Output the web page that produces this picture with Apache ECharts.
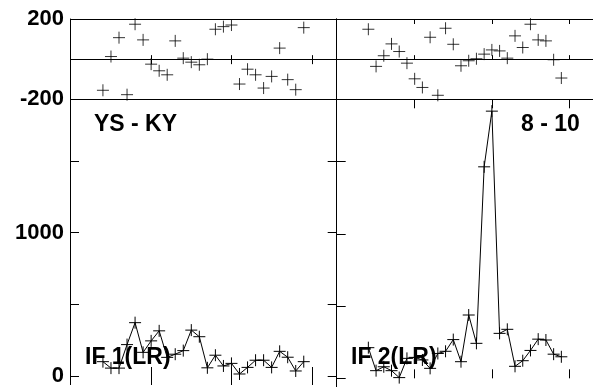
<!DOCTYPE html>
<html>
<head>
<meta charset="utf-8">
<script src="https://cdn.jsdelivr.net/npm/echarts@6/dist/echarts.min.js"></script>
<style>html,body{margin:0;padding:0;background:#fff}#c{width:593px;height:387px}</style>
</head>
<body>
<div id="c"></div>
<script>
// x positions (shared by all panels)
const xs = [4,5,6,7,8,9,10,11,12,13,14,15,16,17,18,19,20,21,22,23,24,25,26,27,28,29];
// top-left panel (YS - KY)
const topLeft = [-155,13,107,-177,174,96,-25,-58,-78,91,5,-15,-28,0,149,162,170,-124,-50,-78,-144,-86,55,-102,-152,157];
// top-right panel (8 - 10)
const topRight = [149,-36,17,76,38,-20,-98,-141,109,-180,154,74,-33,-8,2,25,46,41,5,116,58,174,96,91,-3,-94];
// bottom-left panel IF 1(LR)
const bottomLeft = [100,55,55,219,372,165,245,315,130,152,177,320,274,57,145,70,88,14,60,110,110,60,172,131,35,100];
// bottom-right panel IF 2(LR)
const bottomRight = [212,53,80,53,5,138,145,127,69,172,187,268,115,438,242,1463,1848,311,339,83,122,193,271,265,167,149];
// tick values / labels
const xTicks = [10,20,30];
const topTicks = [-200,0,200];
const topLabels = [200,-200];
const botTicks = [0,500,1000,1500];
const botLabels = [0,1000];
const panelLabels = ['YS - KY','8 - 10','IF 1(LR)','IF 2(LR)'];

const FONT = '"Liberation Sans", Arial, sans-serif';
const chart = echarts.init(document.getElementById('c'), null, {renderer:'canvas'});
const PW = 266.7;
const grids = [
  {left:70, top:19, width:PW, height:80.3},
  {left:336.7, top:19, width:PW, height:80.3},
  {left:70, top:99.3, width:PW, height:287.7},
  {left:336.7, top:99.3, width:PW, height:287.7}
];
function xAx(g, pos, len){
  return {type:'value', gridIndex:g, position:pos, min:-0.1, max:33.1,
    axisLine:{show:false}, splitLine:{show:false},
    axisTick:{show:true, inside:true, length:len, customValues:xTicks, lineStyle:{color:'#000',width:1}},
    axisLabel:{show:false}};
}
const xAxis = [
  xAx(0,'bottom',4), xAx(0,'top',5),
  xAx(1,'bottom',4), xAx(1,'top',5),
  xAx(2,'bottom',9), xAx(2,'top',9),
  xAx(3,'bottom',9), xAx(3,'top',9)
];
function topY(g,pos,labels,split){
  return {type:'value', gridIndex:g, position:pos, min:-200, max:200, interval:200,
    axisLine:{show:true, onZero:false, lineStyle:{color:'#000',width:1}},
    axisTick:{show:true, inside:true, length:5, lineStyle:{color:'#000'}},
    splitLine:{show:split, lineStyle:{color:'#000',width:1}},
    axisLabel:{show:labels, margin:6, color:'#000', fontFamily:FONT, fontWeight:'bold', fontSize:22,
      formatter:v => topLabels.indexOf(v) >= 0 ? String(v) : ''}};
}
function botY(g,pos,labels){
  return {type:'value', gridIndex:g, position:pos, min:-60, max:1930,
    axisLine:{show:true, onZero:false, lineStyle:{color:'#000',width:1}},
    axisTick:{show:true, inside:true, length:9, customValues:botTicks, lineStyle:{color:'#000'}},
    splitLine:{show:false},
    axisLabel:{show:labels, margin:6, color:'#000', fontFamily:FONT, fontWeight:'bold', fontSize:22,
      customValues:botLabels, formatter:v => String(v)}};
}
const yAxis = [
  topY(0,'left',true,true),
  topY(0,'right',false,false),
  topY(1,'left',false,true),
  botY(2,'left',true),
  botY(2,'right',false),
  botY(3,'left',false)
];
const plus = 'path://M6,0L6,12M0,6L12,6';
const mk = {color:'rgba(0,0,0,0)', borderColor:'#000', borderWidth:1};
function pts(vals){ return xs.map((x,i)=>[x, vals[i]]); }
const series = [
  {type:'scatter', xAxisIndex:0, yAxisIndex:0, data:pts(topLeft), symbol:plus, symbolSize:12, itemStyle:mk, silent:true},
  {type:'scatter', xAxisIndex:2, yAxisIndex:2, data:pts(topRight), symbol:plus, symbolSize:12, itemStyle:mk, silent:true},
  {type:'line', xAxisIndex:4, yAxisIndex:3, data:pts(bottomLeft), symbol:plus, symbolSize:12, showAllSymbol:true, itemStyle:mk, lineStyle:{color:'#000',width:1}, silent:true},
  {type:'line', xAxisIndex:6, yAxisIndex:5, data:pts(bottomRight), symbol:plus, symbolSize:12, showAllSymbol:true, itemStyle:mk, lineStyle:{color:'#000',width:1}, silent:true}
];
const lblFont = 'bold 23px ' + FONT;
function txt(s,x,y){ return {type:'text', x:x, y:y, z:100, style:{text:s, font:lblFont, fill:'#000', align:'left', verticalAlign:'middle', textAlign:'left', textVerticalAlign:'middle'}}; }
chart.setOption({
  animation:false,
  backgroundColor:'#fff',
  grid:grids, xAxis:xAxis, yAxis:yAxis, series:series,
  graphic:[
    txt(panelLabels[0], 94, 125),
    txt(panelLabels[1], 521, 125),
    txt(panelLabels[2], 85, 358),
    txt(panelLabels[3], 351, 358)
  ]
});
</script>
</body>
</html>
